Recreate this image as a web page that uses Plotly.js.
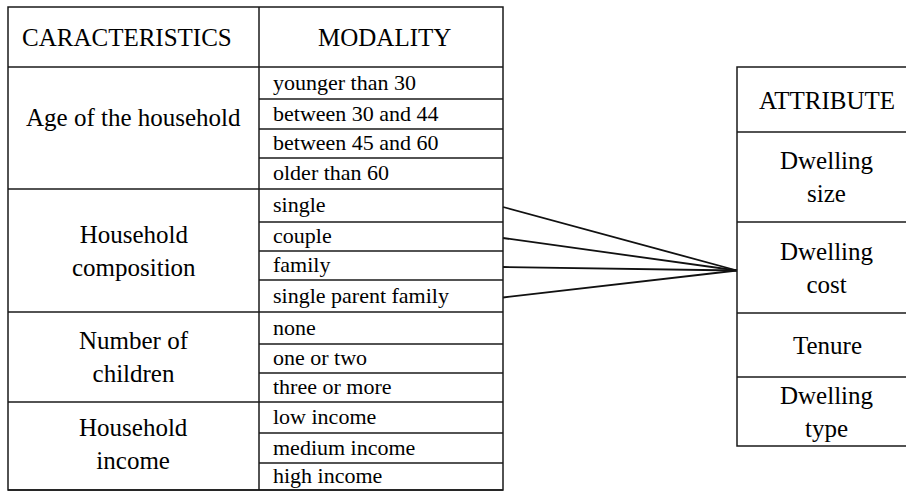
<!DOCTYPE html>
<html>
<head>
<meta charset="utf-8">
<script src="https://cdn.plot.ly/plotly-3.0.1.min.js"></script>
</head>
<body style="margin:0;background:#fff">
<div id="chart"></div>
<script>
// ---- content ----
const headers = ["CARACTERISTICS", "MODALITY"];
const characteristics = ["Age of the household", "Household<br>composition", "Number of<br>children", "Household<br>income"];
const modalities = [
  ["younger than 30", "between 30 and 44", "between 45 and 60", "older than 60"],
  ["single", "couple", "family", "single parent family"],
  ["none", "one or two", "three or more"],
  ["low income", "medium income", "high income"]
];
const attributeHeader = "ATTRIBUTE";
const attributes = ["Dwelling<br>size", "Dwelling<br>cost", "Tenure", "Dwelling<br>type"];
// links: [characteristic index, modality index, attribute index]
const links = [[1, 0, 1], [1, 1, 1], [1, 2, 1], [1, 3, 1]];

// ---- layout geometry (pixels) ----
const geomL = {x0: 8, xm: 259, x1: 503, top: 7, head: 67,
  rows: [67, 99, 129, 158, 189, 222, 251, 280, 312, 344, 373, 402, 433, 463, 490]};
const geomR = {x0: 737, x1: 920, rows: [67, 132, 222, 313, 377, 446]};
const groupYOffset = [-11, 0, 0, -2];

const lineStyle = {color: "#1a1a1a", width: 1.5};
const serifFamily = "Liberation Serif";
const shapeList = [], annList = [];
function addRect(x0, y0, x1, y1) { shapeList.push({type: "rect", xref: "x", yref: "y", x0: x0, y0: y0, x1: x1, y1: y1, line: lineStyle, fillcolor: "rgba(0,0,0,0)"}); }
function addHLine(x0, x1, y) { shapeList.push({type: "line", xref: "x", yref: "y", x0: x0, x1: x1, y0: y, y1: y, line: lineStyle}); }
function addLabel(t, x, y, size, xanchor) {
  annList.push({text: t, x: x, y: y, xref: "x", yref: "y", showarrow: false, xanchor: xanchor || "center", yanchor: "middle",
    font: {family: serifFamily, size: size, color: "#000"}});
}

// left table
addRect(geomL.x0, geomL.top, geomL.x1, geomL.rows[geomL.rows.length - 1]);
shapeList.push({type: "line", xref: "x", yref: "y", x0: geomL.xm, x1: geomL.xm, y0: geomL.top, y1: geomL.rows[geomL.rows.length - 1], line: lineStyle});
addLabel(headers[0], (geomL.x0 + geomL.xm) / 2 - 7, (geomL.top + geomL.head) / 2, 25);
addLabel(headers[1], (geomL.xm + geomL.x1) / 2 + 3, (geomL.top + geomL.head) / 2, 25);
let rowIdx = 0;
const rowCenter = [];
modalities.forEach(function (mods, gi) {
  const gStart = geomL.rows[rowIdx];
  rowCenter.push([]);
  mods.forEach(function (m, mi) {
    const y0 = geomL.rows[rowIdx], y1 = geomL.rows[rowIdx + 1];
    addLabel(m, geomL.xm + 12, (y0 + y1) / 2 - 1, 22, "left");
    rowCenter[gi].push((y0 + y1) / 2);
    rowIdx++;
    addHLine(mi === mods.length - 1 ? geomL.x0 : geomL.xm, geomL.x1, geomL.rows[rowIdx]);
  });
  const gEnd = geomL.rows[rowIdx];
  addLabel(characteristics[gi], (geomL.x0 + geomL.xm) / 2, (gStart + gEnd) / 2 + groupYOffset[gi], 25);
});
addHLine(geomL.x0, geomL.x1, geomL.head);

// right table
addRect(geomR.x0, geomR.rows[0], geomR.x1, geomR.rows[geomR.rows.length - 1]);
for (let i = 1; i < geomR.rows.length - 1; i++) addHLine(geomR.x0, geomR.x1, geomR.rows[i]);
const attrX = 827;
addLabel(attributeHeader, attrX, (geomR.rows[0] + geomR.rows[1]) / 2 + 1, 25);
attributes.forEach(function (a, i) { addLabel(a, attrX, (geomR.rows[i + 1] + geomR.rows[i + 2]) / 2, 25); });

// link lines
const lx = [], ly = [];
links.forEach(function (lk) {
  const g = lk[0], m = lk[1], a = lk[2];
  lx.push(geomL.x1, geomR.x0, null);
  ly.push(rowCenter[g][m] + 1.5, (geomR.rows[a + 1] + geomR.rows[a + 2]) / 2 + 3, null);
});

const data = [{type: "scatter", mode: "lines", x: lx, y: ly, line: {color: "#111", width: 1.8}, hoverinfo: "skip", showlegend: false}];
const layout = {
  width: 906, height: 491, margin: {l: 0, r: 0, t: 0, b: 0},
  paper_bgcolor: "#fff", plot_bgcolor: "#fff",
  xaxis: {range: [0, 906], visible: false},
  yaxis: {range: [491, 0], visible: false},
  shapes: shapeList, annotations: annList, showlegend: false
};
function forceSerif() {
  document.querySelectorAll("#chart text").forEach(function (t) {
    t.style.setProperty("font-family", "'Liberation Serif', 'Times New Roman', serif", "important");
  });
}
Plotly.newPlot("chart", data, layout, {displayModeBar: false}).then(function () {
  forceSerif();
  if (document.fonts && document.fonts.load) {
    document.fonts.load("25px 'Liberation Serif'").then(function () {
      Plotly.relayout("chart", {annotations: annList}).then(forceSerif);
    });
  }
});
</script>
</body>
</html>
